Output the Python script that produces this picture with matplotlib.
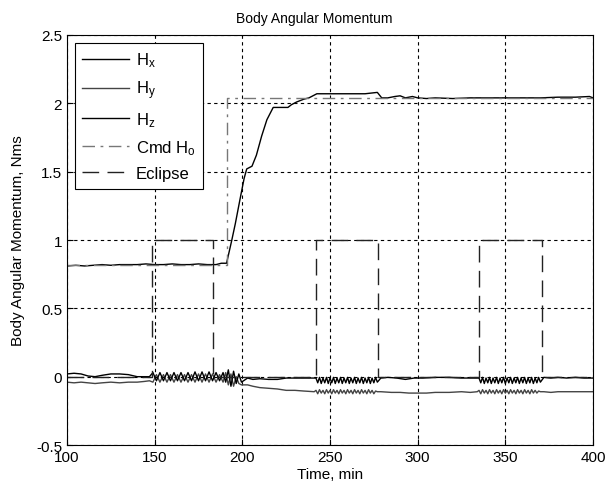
import numpy as np
import matplotlib.pyplot as plt

plt.rcParams['font.family'] = ['Liberation Sans', 'DejaVu Sans']
plt.rcParams['mathtext.fontset'] = 'custom'
plt.rcParams['mathtext.rm'] = 'Liberation Sans'
plt.rcParams['mathtext.it'] = 'Liberation Sans'

# Hx: body momentum, x axis
hx_t = [100, 105, 110, 115, 120, 125, 130, 135, 140, 145, 150, 155, 160, 165, 170,
        175, 180, 185, 188, 191, 194, 196, 198.7, 201, 202.5, 205.5, 208, 211, 214,
        217.6, 220, 226, 228, 231, 235, 238, 242.5, 255, 270, 277, 279.5, 283, 287,
        290, 293, 297, 300, 305, 310, 320, 330, 340, 350, 360, 370, 380, 390, 398, 400]
hx_v = [0.81, 0.815, 0.81, 0.815, 0.82, 0.815, 0.82, 0.82, 0.82, 0.825, 0.82, 0.82,
        0.825, 0.82, 0.82, 0.825, 0.82, 0.82, 0.83, 0.83, 1.0, 1.12, 1.30, 1.45, 1.52,
        1.54, 1.62, 1.76, 1.88, 1.97, 1.97, 1.97, 1.99, 2.01, 2.03, 2.04, 2.07, 2.07,
        2.07, 2.08, 2.04, 2.04, 2.05, 2.055, 2.04, 2.05, 2.04, 2.035, 2.04, 2.035,
        2.04, 2.04, 2.04, 2.04, 2.04, 2.045, 2.045, 2.05, 2.04]

# Hz: upper trace near zero
hz_t1 = [100, 104, 108, 112, 116, 120, 125, 130, 135, 140, 144, 147]
hz_v1 = [0.02, 0.025, 0.02, 0.005, 0.0, 0.01, 0.02, 0.02, 0.015, 0.0, 0.0, 0.0]
hz_t2 = [149, 151, 153, 155, 157, 159, 161, 163, 165, 167, 169, 171, 173, 175, 177,
         179, 181, 183, 185, 187, 189, 190.5, 192, 193.5, 195, 196.5, 198, 199.5,
         203, 206, 210, 215, 220, 225, 230, 235, 241]
hz_v2 = [0.03, -0.03, 0.03, -0.03, 0.03, -0.03, 0.03, -0.03, 0.03, -0.03, 0.03,
         -0.03, 0.035, -0.03, 0.035, -0.03, 0.035, -0.03, 0.03, -0.03, 0.03, -0.04,
         0.05, -0.07, 0.04, -0.05, 0.02, -0.04, -0.01, -0.02, -0.015, -0.02, -0.02,
         -0.01, -0.01, -0.01, -0.01]
hz_t3 = list(range(242, 278))
hz_v3 = [-0.01, -0.045, -0.005, -0.05, -0.01, -0.045, -0.005, -0.05, -0.01, -0.045,
         -0.005, -0.05, -0.01, -0.045, -0.005, -0.05, -0.01, -0.045, -0.005, -0.05,
         -0.01, -0.045, -0.005, -0.05, -0.01, -0.045, -0.005, -0.05, -0.01, -0.045,
         -0.005, -0.05, -0.01, -0.045, -0.005, -0.04]
hz_t4 = [279, 283, 288, 293, 298, 303, 310, 318, 325, 330, 334]
hz_v4 = [-0.01, -0.005, -0.01, -0.02, -0.01, -0.01, -0.005, -0.005, -0.01, -0.01, -0.01]
hz_t5 = list(range(335, 371))
hz_v5 = [-0.01, -0.045, -0.005, -0.05, -0.01, -0.045, -0.005, -0.05, -0.01, -0.045,
         -0.005, -0.05, -0.01, -0.045, -0.005, -0.05, -0.01, -0.045, -0.005, -0.05,
         -0.01, -0.045, -0.005, -0.05, -0.01, -0.045, -0.005, -0.05, -0.01, -0.045,
         -0.005, -0.05, -0.01, -0.045, -0.005, -0.04]
hz_t6 = [372, 376, 380, 385, 390, 395, 400]
hz_v6 = [-0.005, -0.01, -0.005, -0.01, -0.005, -0.01, -0.01]

# Hy: lower trace
hy_t1 = [100, 104, 108, 112, 116, 120, 125, 130, 135, 140, 144, 147]
hy_v1 = [-0.04, -0.045, -0.04, -0.045, -0.05, -0.045, -0.04, -0.045, -0.04, -0.04,
         -0.035, -0.03]
hy_t2 = [149, 151, 153, 155, 157, 159, 161, 163, 165, 167, 169, 171, 173, 175, 177,
         179, 181, 183, 185, 187, 189, 190.5, 192, 193.5, 195, 196.5, 198, 199.5,
         203, 206, 210, 215, 220, 225, 230, 235, 241]
hy_v2 = [-0.04, 0.015, -0.04, 0.015, -0.04, 0.015, -0.04, 0.015, -0.04, 0.015,
         -0.04, 0.015, -0.04, 0.02, -0.04, 0.02, -0.04, 0.02, -0.04, 0.015, -0.04,
         0.03, -0.06, 0.02, -0.07, 0.0, -0.05, -0.06, -0.06, -0.07, -0.08, -0.085,
         -0.09, -0.1, -0.1, -0.105, -0.11]
hy_t3 = list(range(242, 278))
hy_v3 = [-0.10, -0.125, -0.095, -0.12, -0.10, -0.125, -0.095, -0.12, -0.10, -0.125,
         -0.095, -0.12, -0.10, -0.125, -0.095, -0.12, -0.10, -0.125, -0.095, -0.12,
         -0.10, -0.125, -0.095, -0.12, -0.10, -0.125, -0.095, -0.12, -0.10, -0.125,
         -0.095, -0.12, -0.10, -0.125, -0.105, -0.11]
hy_t4 = [279, 285, 290, 295, 300, 305, 310, 318, 325, 330, 334]
hy_v4 = [-0.11, -0.115, -0.115, -0.12, -0.12, -0.12, -0.115, -0.115, -0.11, -0.115,
         -0.11]
hy_t5 = list(range(335, 371))
hy_v5 = [-0.10, -0.125, -0.095, -0.12, -0.10, -0.125, -0.095, -0.12, -0.10, -0.125,
         -0.095, -0.12, -0.10, -0.125, -0.095, -0.12, -0.10, -0.125, -0.095, -0.12,
         -0.10, -0.125, -0.095, -0.12, -0.10, -0.125, -0.095, -0.12, -0.10, -0.125,
         -0.095, -0.12, -0.10, -0.12, -0.105, -0.11]
hy_t6 = [372, 376, 380, 385, 390, 395, 400]
hy_v6 = [-0.11, -0.115, -0.11, -0.11, -0.11, -0.11, -0.11]

# commanded momentum and eclipse flag
cmd_t = [100, 191.3, 191.3, 400]
cmd_v = [0.82, 0.82, 2.04, 2.04]
ecl_t = [100, 148.5, 148.5, 183.3, 183.3, 242, 242, 277.4, 277.4, 335, 335,
         370.9, 370.9, 400]
ecl_v = [0, 0, 1, 1, 0, 0, 1, 1, 0, 0, 1, 1, 0, 0]

hz_t = hz_t1 + hz_t2 + hz_t3 + hz_t4 + hz_t5 + hz_t6
hz_v = hz_v1 + hz_v2 + hz_v3 + hz_v4 + hz_v5 + hz_v6
hy_t = hy_t1 + hy_t2 + hy_t3 + hy_t4 + hy_t5 + hy_t6
hy_v = hy_v1 + hy_v2 + hy_v3 + hy_v4 + hy_v5 + hy_v6

fig = plt.figure(figsize=(6.11, 4.89), dpi=100)
ax = fig.add_axes([0.1097, 0.0879, 0.8608, 0.8385])

ax.plot(hx_t, hx_v, color='black', lw=1.0, label='H$_x$')
ax.plot(hy_t, hy_v, color='#444444', lw=1.0, label='H$_y$')
ax.plot(hz_t, hz_v, color='black', lw=1.0, label='H$_z$')
ax.plot(cmd_t, cmd_v, color='#777777', lw=1.0, linestyle=(0, (9, 4, 2, 4)),
        label='Cmd H$_o$')
ax.plot(ecl_t, ecl_v, color='#222222', lw=1.0, linestyle=(0, (12, 6)),
        label='Eclipse')

ax.set_xlim(100, 400)
ax.set_ylim(-0.5, 2.5)
ax.set_xticks([100, 150, 200, 250, 300, 350, 400])
ax.set_yticks([-0.5, 0, 0.5, 1, 1.5, 2, 2.5])
ax.set_yticklabels(['-0.5', '0', '0.5', '1', '1.5', '2', '2.5'])
ax.grid(True, color='black', linestyle=(0, (3, 3)), linewidth=0.8)
ax.tick_params(labelsize=11, direction='in', length=4, width=0.8)
for s in ax.spines.values():
    s.set_linewidth(0.8)

ax.set_title('Body Angular Momentum', fontsize=10, pad=9, x=0.47)
ax.set_xlabel('Time, min', fontsize=11, labelpad=2)
ax.set_ylabel('Body Angular Momentum, Nms', fontsize=11, labelpad=8)

leg = ax.legend(loc='upper left', bbox_to_anchor=(0.015, 0.98), borderaxespad=0,
                fontsize=12, handlelength=2.8, handletextpad=0.4,
                labelspacing=0.55, fancybox=False, framealpha=1, borderpad=0.45)
leg.get_frame().set_edgecolor('black')
leg.get_frame().set_linewidth(0.8)

fig.savefig('out.png', dpi=100, facecolor='white')
